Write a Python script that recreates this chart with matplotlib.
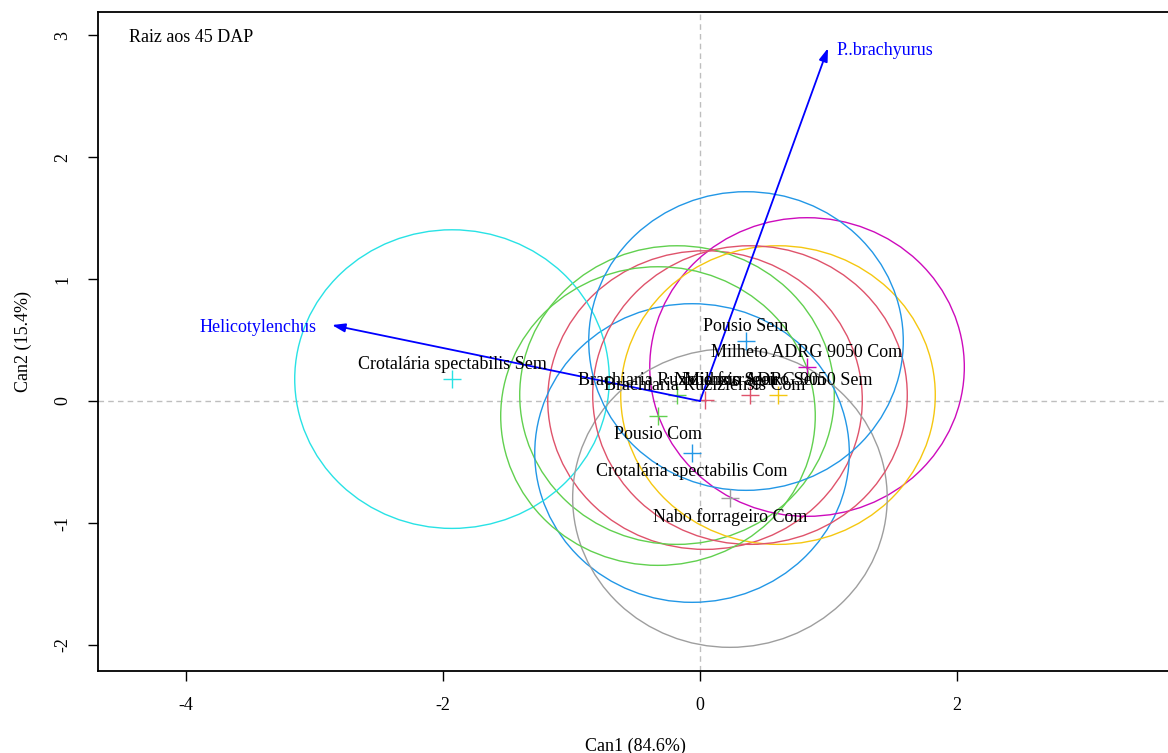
import numpy as np
import matplotlib.pyplot as plt
from matplotlib.patches import Ellipse

# grupos (medias canonicas)
grupos = ['Brachiaria Ruziziensis Com', 'Brachiaria Ruziziensis Sem',
          'Crotalária spectabilis Com', 'Crotalária spectabilis Sem',
          'Milheto ADRG 9050 Com', 'Milheto ADRG 9050 Sem',
          'Nabo forrageiro Com', 'Nabo forrageiro Sem',
          'Pousio Com', 'Pousio Sem']
can1 = [0.039, -0.179, -0.062, -1.930, 0.833, 0.607, 0.233, 0.389, -0.327, 0.358]
can2 = [0.008, 0.049, -0.426, 0.180, 0.279, 0.049, -0.795, 0.049, -0.123, 0.492]
raio = 1.224

# vetores das variaveis
variaveis = ['Helicotylenchus', 'P..brachyurus']
vec1 = [-2.864, 0.996]
vec2 = [0.623, 2.893]

# paleta padrao do R (sem o preto)
paleta = ['#DF536B', '#61D04F', '#2297E6', '#28E2E5', '#CD0BBC', '#F5C710', '#9E9E9E']
cores = [paleta[i % len(paleta)] for i in range(len(grupos))]

plt.rcParams['font.family'] = 'Liberation Serif'
plt.rcParams['font.size'] = 13

fig = plt.figure(figsize=(11.68, 7.53), dpi=100)
ax = fig.add_axes([0.0839, 0.1089, 0.9195, 0.8751])

ax.axhline(0, color='#BEBEBE', ls=(0, (4, 3)), lw=1, zorder=1)
ax.axvline(0, color='#BEBEBE', ls=(0, (4, 3)), lw=1, zorder=1)

for g, x, y, c in zip(grupos, can1, can2, cores):
    ax.add_patch(Ellipse((x, y), 2 * raio, 2 * raio, fill=False,
                         edgecolor=c, lw=1, zorder=2))
    ax.plot(x, y, '+', color=c, ms=13, mew=1, zorder=3)
    off = 12.2 if y > 0 else -12.2
    ax.annotate(g, (x, y), xytext=(0, off), textcoords='offset points',
                ha='center', va='center_baseline', fontsize=13, zorder=5)

for v, x, y in zip(variaveis, vec1, vec2):
    ax.annotate('', xy=(x, y), xytext=(0, 0),
                arrowprops=dict(arrowstyle='-|>,head_length=0.6,head_width=0.2',
                                color='blue', lw=1.3, shrinkA=0, shrinkB=0),
                zorder=4)
    if x < 0:
        ax.annotate(v, (x, y), xytext=(-11, 0), textcoords='offset points',
                    ha='right', va='center_baseline', color='blue', fontsize=13)
    else:
        ax.annotate(v, (x, y), xytext=(6, 0), textcoords='offset points',
                    ha='left', va='center_baseline', color='blue', fontsize=13)

ax.text(0.029, 0.965, 'Raiz aos 45 DAP', transform=ax.transAxes,
        ha='left', va='center_baseline', fontsize=13)

ax.set_xlim(-4.685, 3.673)
ax.set_ylim(-2.213, 3.189)
ax.set_xticks([-4, -2, 0, 2])
ax.set_yticks([-2, -1, 0, 1, 2, 3])
ax.set_xticklabels(['-4', '-2', '0', '2'])
ax.set_yticklabels(['-2', '-1', '0', '1', '2', '3'], rotation=90, va='center')
ax.tick_params(direction='out', length=7, width=1, pad=12, labelsize=13)
for s in ax.spines.values():
    s.set_linewidth(1.3)
ax.set_xlabel('Can1 (84.6%)', fontsize=13, labelpad=17)
ax.set_ylabel('Can2 (15.4%)', fontsize=13, labelpad=16)

fig.savefig('out.png', dpi=100)
